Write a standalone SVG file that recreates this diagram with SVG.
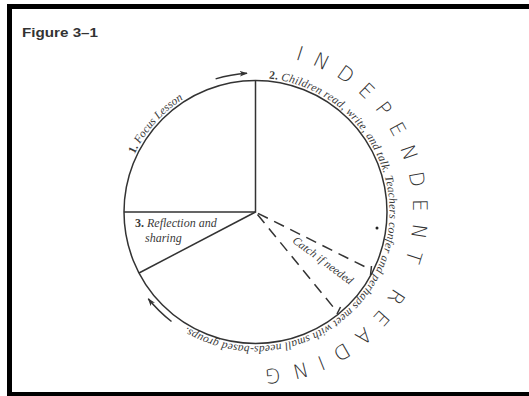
<svg xmlns="http://www.w3.org/2000/svg" width="529" height="396" viewBox="0 0 529 396">
<style>
.ln{fill:none;stroke:#333;stroke-width:1.5}
.dash{fill:none;stroke:#333;stroke-width:1.5;stroke-dasharray:11 7}
.lbl{font-family:"Liberation Serif",serif;font-style:italic;fill:#3a3a3a}
.num{font-style:normal;font-weight:bold}
.big{font-family:"DejaVu Sans","Liberation Sans",sans-serif;font-weight:300;font-size:20px;fill:#333;letter-spacing:11.3px}
</style>
<defs>
<marker id="ah" viewBox="0 0 10 8" refX="9" refY="4" markerWidth="8" markerHeight="6.4" markerUnits="userSpaceOnUse" orient="auto">
<path d="M0,0.5 L10,4 L0,7.5 L2.5,4 Z" fill="#333"/>
</marker>
<path id="pText" d="M255.5 78 A134 134 0 1 1 255.5 346 A134 134 0 1 1 255.5 78"/>
<path id="pBig" d="M255.5 54.5 A157.5 157.5 0 1 1 255.5 369.5 A157.5 157.5 0 1 1 255.5 54.5"/>
</defs>
<rect width="529" height="396" fill="#fff"/>
<g id="frame">
<path d="M9.5 396 V6.5 H529" fill="none" stroke="#000" stroke-width="5"/>
<path d="M7 394 H529" fill="none" stroke="#000" stroke-width="4"/>
</g>
<g id="title">
<text x="22" y="37" font-family="Liberation Sans,Arial,sans-serif" font-weight="bold" font-size="13" fill="#333" textLength="76" lengthAdjust="spacingAndGlyphs">Figure 3–1</text>
</g>
<g id="cycle">
<circle cx="255.5" cy="212" r="131.5" class="ln"/>
</g>
<g id="sections">
<path class="ln" d="M255.5 80.5 V212 H124"/>
<path class="ln" d="M255.5 212 L139 273"/>
</g>
<g id="connectors">
<path class="ln" d="M215.6 78.9 A139 139 0 0 1 247 73.3" marker-end="url(#ah)" stroke-width="1.2"/>
<path class="ln" d="M171.5 321.5 A138 138 0 0 1 148.3 298.8" marker-end="url(#ah)" stroke-width="1.2"/>
<path class="dash" d="M258 213.3 L369 268.8"/>
<path class="dash" d="M257.5 214.5 L334 308"/>
<path class="ln" d="M371.5 266 L370.5 275"/>
<path class="ln" d="M340.5 307 L337 314"/>
<circle cx="377" cy="228" r="1.5" fill="#222"/>
</g>
<g id="label-focus">
<text class="lbl" font-size="11.5"><textPath href="#pText" startOffset="691"><tspan class="num">1.</tspan> Focus Lesson</textPath></text>
</g>
<g id="label-independent">
<text class="lbl" font-size="11.5"><textPath href="#pText" startOffset="13.3" textLength="480" lengthAdjust="spacing"><tspan class="num">2.</tspan> Children read, write, and talk. Teachers confer and perhaps meet with small needs-based groups.</textPath></text>
</g>
<g id="label-reflection">
<text class="lbl" font-size="12" x="135" y="227"><tspan class="num">3.</tspan> Reflection and</text>
<text class="lbl" font-size="12" x="145" y="242">sharing</text>
</g>
<g id="label-catch">
<text class="lbl" font-size="11.5" text-anchor="middle" transform="translate(320.7 263.4) rotate(36.5)">Catch if needed</text>
</g>
<g id="label-reading">
<text class="big"><textPath href="#pBig" startOffset="40">INDEPENDENT READING</textPath></text>
</g>
</svg>
